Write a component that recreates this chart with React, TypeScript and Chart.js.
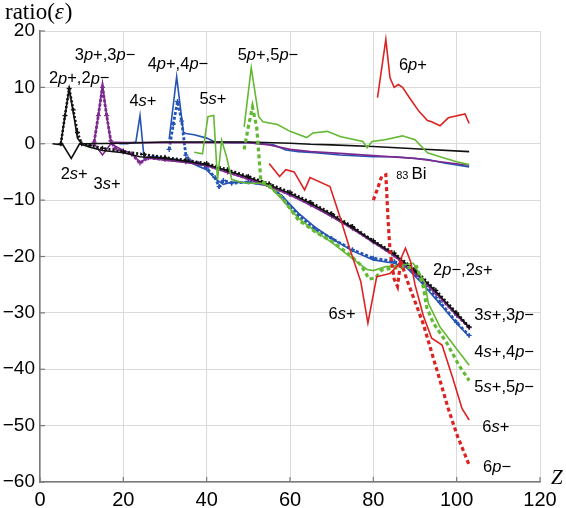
import React, { useEffect, useRef } from "react";
import { Chart, registerables } from "chart.js";
Chart.register(...registerables);

// ---------- axis ticks ----------
const xTickValues = [0, 20, 40, 60, 80, 100, 120];
const yTickValues = [20, 10, 0, -10, -20, -30, -40, -50, -60];

// ---------- series (Z, ratio) ----------
// n = 2 (black)
const z2sPlus = [3, 5.5, 7.5, 9.5, 12, 15, 20, 24, 30, 35, 40, 45, 50, 55, 60, 65, 70, 75, 80, 85, 90, 95, 100, 103];
const v2sPlus = [0, -0.2, -2.6, 0, -0.6, -1.2, -1.6, -2.3, -2.6, -3.1, -3.7, -4.8, -6, -7.3, -8.8, -10.6, -12.6, -14.9, -17.3, -19.6, -22.6, -26.2, -30.2, -32.6];
const z2pPlus = [5, 6, 7, 8, 9, 10, 20, 30, 40, 50, 60, 65, 70, 80, 90, 103];
const v2pPlus = [0, 5, 9.8, 5.5, 1, 0, 0.1, 0.3, 0.3, 0.3, 0.1, -0.1, -0.2, -0.5, -0.9, -1.4];
const z2pMinus = [5, 6, 7, 8, 9, 10, 12, 15, 20, 25, 30, 35, 40, 45, 50, 55, 60, 65, 70, 75, 80, 85, 90, 95, 100, 103];
const v2pMinus = [0, 5, 9.8, 6, 2, 0, -0.3, -0.8, -1.4, -1.9, -2.4, -2.9, -3.5, -4.6, -5.8, -7.1, -8.6, -10.4, -12.4, -14.7, -17.2, -19.4, -22.4, -26, -30, -32.5];

// n = 3 (purple)
const z3sPlus = [11, 13, 15, 17, 20, 22, 24, 26, 30, 35, 40, 45, 50, 55, 60, 65, 70, 75, 80, 85, 90, 95, 100, 103];
const v3sPlus = [0, 0, -2, 0, -1.2, -1.7, -3.3, -2.5, -2.9, -3.3, -3.9, -5.1, -6.3, -7.6, -9.1, -10.9, -12.9, -15.1, -17.5, -19.9, -22.9, -26.5, -30.4, -32.6];
const z3pPlus = [13, 14, 15, 16, 17, 20, 30, 40, 50, 55, 60, 65, 72, 80, 90, 96, 103];
const v3pPlus = [0.3, 5, 10.5, 5, 0.3, 0.2, 0.2, 0.2, 0.2, -0.2, -1, -1.4, -1.7, -2.1, -2.6, -3.2, -3.8];
const z3pMinus = [13, 14, 15, 16, 17, 18, 20, 22, 24, 26, 30, 35, 40, 45, 50, 55, 60, 65, 70, 75, 80, 85, 90, 95, 100, 103];
const v3pMinus = [0.3, 5, 10, 5, 0.5, -0.8, -1.3, -1.8, -3.4, -2.5, -2.8, -3.2, -3.8, -5, -6.2, -7.5, -9, -10.8, -12.8, -15, -17.4, -19.8, -22.9, -26.5, -30.4, -32.6];

// n = 4 (blue)
const z4sPlus = [19, 21, 23, 24, 25, 27, 30, 33, 36, 38, 40, 42, 44, 46, 50, 55, 58, 62, 66, 70, 75, 80, 85, 88, 92, 96, 100, 103];
const v4sPlus = [0, 0, 0.3, 5, -2.7, -2.2, -2.6, -2.8, -3.3, -4, -4.6, -6.2, -7.2, -6.8, -6.9, -7.4, -9.2, -12.3, -14.8, -16.8, -19, -20.6, -21.2, -22, -25, -28.4, -31.9, -34.2];
const z4pPlus = [31, 32.8, 34.4, 35, 37, 40, 42, 46, 50, 56, 59, 62, 66, 72, 80, 85, 93, 97, 103];
const v4pPlus = [0.8, 11.9, 2.1, 1.8, 1.6, 1, 0.3, 0.2, 0.2, -0.2, -1.1, -1.4, -1.6, -2, -2.3, -2.3, -2.8, -3.4, -4.1];
const z4pMinus = [31, 32, 33, 34, 35, 36, 38, 40, 42, 43, 44, 46, 50, 55, 58, 62, 66, 70, 75, 80, 85, 88, 92, 96, 100, 103];
const v4pMinus = [-1, 3.5, 7.5, 4, -2, -3, -3.5, -4.3, -6, -7.6, -6.5, -7, -6.8, -7.3, -9.4, -12.7, -15.1, -16.8, -18.8, -20.3, -20.9, -21.7, -24.6, -28.1, -31.7, -34];

// n = 5 (green)
const z5sPlus = [37, 39, 40.3, 41.7, 42.6, 43.6, 44.8, 46, 48, 50, 53, 55, 58, 62, 66, 70, 74, 76.5, 78.5, 80, 83, 86, 89.6, 92.4, 93.2, 96, 99.6, 103];
const v5sPlus = [-1.5, -1.8, 4.8, 5, -6.4, 0.6, -2.4, -6.3, -6.8, -7, -7, -7.5, -9.8, -13.2, -15.5, -17.5, -19.8, -21.2, -22.3, -22.5, -21.8, -21.6, -21.2, -24.7, -28.3, -32.5, -36, -39.3];
const z5pPlus = [49, 50.7, 52.5, 53.5, 57, 60, 64, 65.5, 69, 72, 77.5, 78.5, 79.7, 82.8, 87, 90, 93, 96, 100, 103];
const v5pPlus = [3, 13.5, 4.8, 3.9, 3.4, 2.2, 1.1, 1.9, 2.2, 1.3, 0.4, -0.7, 0.4, 0.7, 1.4, 0.7, -1.6, -2.3, -3.2, -3.7];
const z5pMinus = [49, 50, 51, 52, 53, 55, 58, 62, 66, 70, 74, 77, 79, 80.5, 82, 85, 88, 90.4, 92, 92.8, 94.4, 97.6, 100.8, 103];
const v5pMinus = [-1, 3, 6.5, 3, -6.5, -7.5, -9.5, -13.5, -15.6, -17.3, -19.5, -21.5, -24, -23.8, -22.4, -22, -22, -21.8, -25.4, -29, -31.8, -35.3, -39.6, -42];

// n = 6 (red)
const z6sPlus = [55, 57.5, 59, 61, 63.5, 64.8, 69.6, 72, 74.5, 77, 78.7, 80.8, 84, 86, 87.7, 89, 90, 92, 94, 96.5, 99, 101.3, 103];
const v6sPlus = [-3.5, -5.8, -4.6, -5, -8.2, -6, -7.6, -13, -19, -24.5, -31.8, -23.6, -23, -21.5, -18.5, -21, -25, -30.5, -34.5, -35.7, -41.4, -47, -49];
const z6pPlus = [81, 83, 84, 85, 86, 87, 89, 91, 93, 94, 96, 98, 102, 103];
const v6pPlus = [8.2, 18.5, 11.7, 10, 10.5, 10, 7.8, 5.7, 4.1, 3.9, 3.2, 4.6, 5.3, 3.6];
const z6pMinus = [80, 81, 82, 83, 83.5, 84, 85, 85.8, 86.6, 88, 90, 92, 94, 96, 98, 100, 103];
const v6pMinus = [-10, -8, -5.8, -5.5, -13, -19, -24, -25.3, -20.8, -24, -28, -32, -37, -42, -47, -51.5, -57];

// ---------- text labels (data coordinates) ----------
const labelTexts = ["2p+,2p−", "3p+,3p−", "4s+", "4p+,4p−", "5s+", "5p+,5p−", "6p+", "2s+", "3s+", "2p−,2s+", "3s+,3p−", "4s+,4p−", "5s+,5p−", "6s+", "6p−", "6s+"];
const labelZ = [9.4, 15.6, 24.7, 33.1, 41.5, 54.7, 89.5, 8.2, 16.1, 101.5, 111.4, 111.4, 111.4, 109.4, 109.7, 72.5];
const labelV = [11.5, 15.6, 7.5, 14.0, 7.8, 15.6, 13.9, -5.5, -7.2, -22.4, -30.4, -37.1, -43.3, -50.3, -57.4, -30.2];

const BLACK = "#111111";
const PURPLE = "#7d2a8f";
const BLUE = "#2453b3";
const GREEN = "#63b934";
const RED = "#dd2222";

const pts = (z: number[], v: number[]) => z.map((x, i) => ({ x, y: v[i] }));

const solid = (label: string, z: number[], v: number[], color: string) => ({
  label,
  data: pts(z, v),
  borderColor: color,
  backgroundColor: color,
  borderWidth: 1.6,
  pointRadius: 0,
  tension: 0,
  fill: false,
});
const dotted = (label: string, z: number[], v: number[], color: string, dash: number[], width: number, marker = false) => ({
  label,
  data: pts(z, v),
  borderColor: color,
  backgroundColor: color,
  borderWidth: width,
  borderDash: dash,
  pointRadius: marker ? 2.5 : 0,
  pointStyle: "cross",
  pointBorderWidth: 1.3,
  pointBorderColor: color,
  tension: 0,
  fill: false,
});

const SANS = '"Liberation Sans", Arial, sans-serif';
const SERIF = '"Liberation Serif", "Times New Roman", serif';

function drawRich(ctx: CanvasRenderingContext2D, text: string, cx: number, cy: number, size: number) {
  const parts: { t: string; it: boolean }[] = [];
  for (const ch of text) {
    const it = ch === "s" || ch === "p";
    if (parts.length && parts[parts.length - 1].it === it) parts[parts.length - 1].t += ch;
    else parts.push({ t: ch, it });
  }
  let w = 0;
  for (const p of parts) {
    ctx.font = `${p.it ? "italic " : ""}${size}px ${SANS}`;
    w += ctx.measureText(p.t).width;
  }
  let x = cx - w / 2;
  ctx.textBaseline = "middle";
  ctx.textAlign = "left";
  for (const p of parts) {
    ctx.font = `${p.it ? "italic " : ""}${size}px ${SANS}`;
    ctx.fillText(p.t, x, cy);
    x += ctx.measureText(p.t).width;
  }
}

const decorPlugin = {
  id: "decor",
  afterDraw(chart: any) {
    const ctx: CanvasRenderingContext2D = chart.ctx;
    const xs = chart.scales.x;
    const ys = chart.scales.y;
    const area = chart.chartArea;
    ctx.save();
    // inward ticks
    ctx.strokeStyle = "#7a7a7a";
    ctx.lineWidth = 1.2;
    for (const t of xTickValues) {
      const px = xs.getPixelForValue(t);
      ctx.beginPath();
      ctx.moveTo(px, area.bottom);
      ctx.lineTo(px, area.bottom - 5);
      ctx.stroke();
    }
    for (const t of yTickValues) {
      const py = ys.getPixelForValue(t);
      ctx.beginPath();
      ctx.moveTo(area.left, py);
      ctx.lineTo(area.left + 5, py);
      ctx.stroke();
    }
    // annotations
    ctx.fillStyle = "#000";
    labelTexts.forEach((t, i) => {
      drawRich(ctx, t, xs.getPixelForValue(labelZ[i]), ys.getPixelForValue(labelV[i]), 16.5);
    });
    // 83 Bi
    ctx.textBaseline = "alphabetic";
    ctx.textAlign = "left";
    const bx = xs.getPixelForValue(85.5);
    const by = ys.getPixelForValue(-6.2);
    ctx.font = `11px ${SANS}`;
    ctx.fillText("83", bx, by);
    const w83 = ctx.measureText("83").width;
    ctx.font = `17px ${SANS}`;
    ctx.fillText("Bi", bx + w83 + 3, by);
    // axis titles
    ctx.font = `23px ${SERIF}`;
    let x0 = 5;
    const ty = 19;
    ctx.fillText("ratio(", x0, ty);
    x0 += ctx.measureText("ratio(").width;
    ctx.font = `italic 23px ${SERIF}`;
    ctx.fillText("ε", x0, ty);
    x0 += ctx.measureText("ε").width + 1;
    ctx.font = `23px ${SERIF}`;
    ctx.fillText(")", x0, ty);
    ctx.font = `italic 21px ${SERIF}`;
    ctx.fillText("Z", 551, 484);
    ctx.restore();
  },
};

export default function App() {
  const ref = useRef<HTMLCanvasElement | null>(null);
  useEffect(() => {
    if (!ref.current) return;
    const datasets = [
      dotted("6p−", z6pMinus, v6pMinus, RED, [4, 3], 3.2),
      solid("6s+", z6sPlus, v6sPlus, RED),
      solid("6p+", z6pPlus, v6pPlus, RED),
      dotted("5p−", z5pMinus, v5pMinus, GREEN, [4, 3], 3.2),
      solid("5s+", z5sPlus, v5sPlus, GREEN),
      solid("5p+", z5pPlus, v5pPlus, GREEN),
      dotted("2p−", z2pMinus, v2pMinus, BLACK, [2, 2], 2.6, true),
      solid("2s+", z2sPlus, v2sPlus, BLACK),
      solid("2p+", z2pPlus, v2pPlus, BLACK),
      dotted("3p−", z3pMinus, v3pMinus, PURPLE, [3, 1.5], 2.8, true),
      solid("3s+", z3sPlus, v3sPlus, PURPLE),
      solid("3p+", z3pPlus, v3pPlus, PURPLE),
      dotted("4p−", z4pMinus, v4pMinus, BLUE, [3, 2], 2.8, true),
      solid("4s+", z4sPlus, v4sPlus, BLUE),
      solid("4p+", z4pPlus, v4pPlus, BLUE),
    ];
    const chart = new Chart(ref.current, {
      type: "line",
      data: { datasets },
      options: {
        animation: false,
        responsive: false,
        layout: { padding: { top: 31, right: 26, left: 0, bottom: 0 } },
        plugins: { legend: { display: false }, tooltip: { enabled: false }, title: { display: false } },
        scales: {
          x: {
            type: "linear",
            min: 0,
            max: 120,
            afterBuildTicks: (s: any) => {
              s.ticks = xTickValues.map((v) => ({ value: v }));
            },
            afterFit: (s: any) => {
              s.height = 26;
            },
            ticks: {
              color: "#000",
              font: { family: SANS, size: 20 },
              padding: 6,
              maxRotation: 0,
              callback: (v: any) => String(v),
            },
            grid: { color: "#dadada", lineWidth: 1, drawTicks: false },
            border: { color: "#7a7a7a", width: 1.5 },
          },
          y: {
            type: "linear",
            min: -60,
            max: 20,
            afterBuildTicks: (s: any) => {
              s.ticks = yTickValues.slice().reverse().map((v) => ({ value: v }));
            },
            afterFit: (s: any) => {
              s.width = 40;
            },
            ticks: {
              color: "#000",
              font: { family: SANS, size: 19 },
              padding: 5,
              callback: (v: any) => (Number(v) < 0 ? "−" + Math.abs(Number(v)) : String(v)),
            },
            grid: { color: "#dadada", lineWidth: 1, drawTicks: false },
            border: { color: "#7a7a7a", width: 1.5 },
          },
        },
      } as any,
      plugins: [decorPlugin],
    });
    return () => chart.destroy();
  }, []);
  return (
    <div style={{ position: "absolute", left: 0, top: 0, width: 566, height: 508, background: "#fff" }}>
      <canvas ref={ref} width={566} height={508} />
    </div>
  );
}
